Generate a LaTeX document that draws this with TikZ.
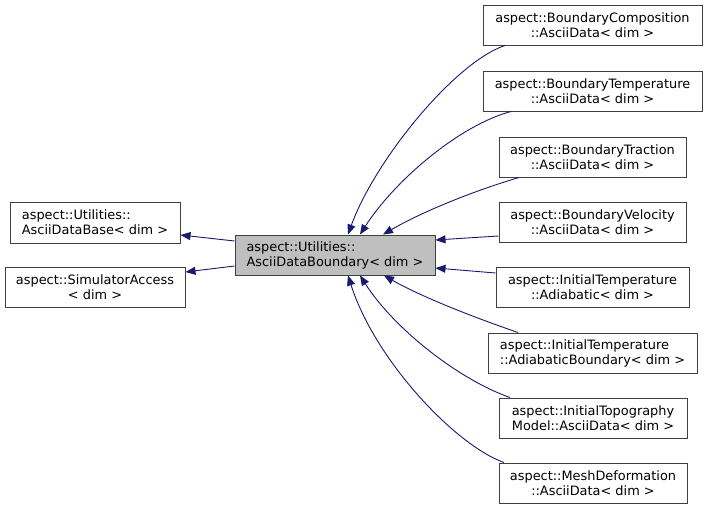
\documentclass[tikz,border=0pt]{standalone}
\usepackage{fontspec}
\setmainfont{DejaVu Sans}
\usetikzlibrary{arrows.meta,calc}
\definecolor{edgeblue}{HTML}{191970}
\definecolor{boxgray}{HTML}{404040}
\definecolor{centerfill}{HTML}{BFBFBF}
\begin{document}
\begin{tikzpicture}[x=1pt,y=-1pt,
  cls/.style={draw=boxgray,line width=1pt,fill=white,minimum height=40pt,inner sep=0pt,
    font=\fontsize{12.9}{15}\selectfont,align=center},
  clsl/.style={cls,align=left},
  edge/.style={draw=edgeblue,line width=0.9pt,-{Triangle[length=10pt,width=8pt]}}]
\useasboundingbox (0,0) rectangle (707,509);
\node[clsl,minimum width=170pt,minimum height=41pt] (base) at (95,222.5) {aspect::Utilities::\\AsciiDataBase< dim >};
\node[cls,minimum width=180pt] (sim) at (95,287) {aspect::SimulatorAccess\\< dim >};
\node[clsl,minimum width=200pt,fill=centerfill] (ctr) at (335,255) {aspect::Utilities::\\AsciiDataBoundary< dim >};
\node[cls,minimum width=219pt] (comp) at (592.5,25) {aspect::BoundaryComposition\\::AsciiData< dim >};
\node[cls,minimum width=219pt] (temp) at (592.5,91) {aspect::BoundaryTemperature\\::AsciiData< dim >};
\node[cls,minimum width=187pt] (trac) at (592.5,157) {aspect::BoundaryTraction\\::AsciiData< dim >};
\node[cls,minimum width=187pt] (velo) at (592.5,222) {aspect::BoundaryVelocity\\::AsciiData< dim >};
\node[cls,minimum width=193pt] (adia) at (592.5,287) {aspect::InitialTemperature\\::Adiabatic< dim >};
\node[clsl,minimum width=209pt] (adiab) at (592.5,353) {aspect::InitialTemperature\\::AdiabaticBoundary< dim >};
\node[cls,minimum width=188pt] (topo) at (593,418) {aspect::InitialTopography\\Model::AsciiData< dim >};
\node[cls,minimum width=188pt] (mesh) at (593,483) {aspect::MeshDeformation\\::AsciiData< dim >};
% edges
\draw[edge] (comp.south -| 505,0) .. controls (455,62) and (375,160) .. (ctr.north -| 348,0);
\draw[edge] (temp.south -| 511,0) .. controls (460,125) and (395,180) .. (ctr.north -| 360,0);
\draw[edge] (trac.south -| 519,0) .. controls (470,192) and (420,213) .. (ctr.north -| 383,0);
\draw[edge] (velo.west |- 0,236) -- (ctr.east |- 0,240);
\draw[edge] (adia.west |- 0,273) -- (ctr.east |- 0,268);
\draw[edge] (adiab.north -| 518,0) .. controls (470,316) and (420,296) .. (ctr.south -| 384,0);
\draw[edge] (topo.north -| 510,0) .. controls (460,380) and (395,330) .. (ctr.south -| 360,0);
\draw[edge] (mesh.north -| 504,0) .. controls (455,445) and (375,360) .. (ctr.south -| 348,0);
\draw[edge] (ctr.west |- 0,241) -- (base.east |- 0,235);
\draw[edge] (ctr.west |- 0,266) -- (sim.east |- 0,272);
\end{tikzpicture}
\end{document}
